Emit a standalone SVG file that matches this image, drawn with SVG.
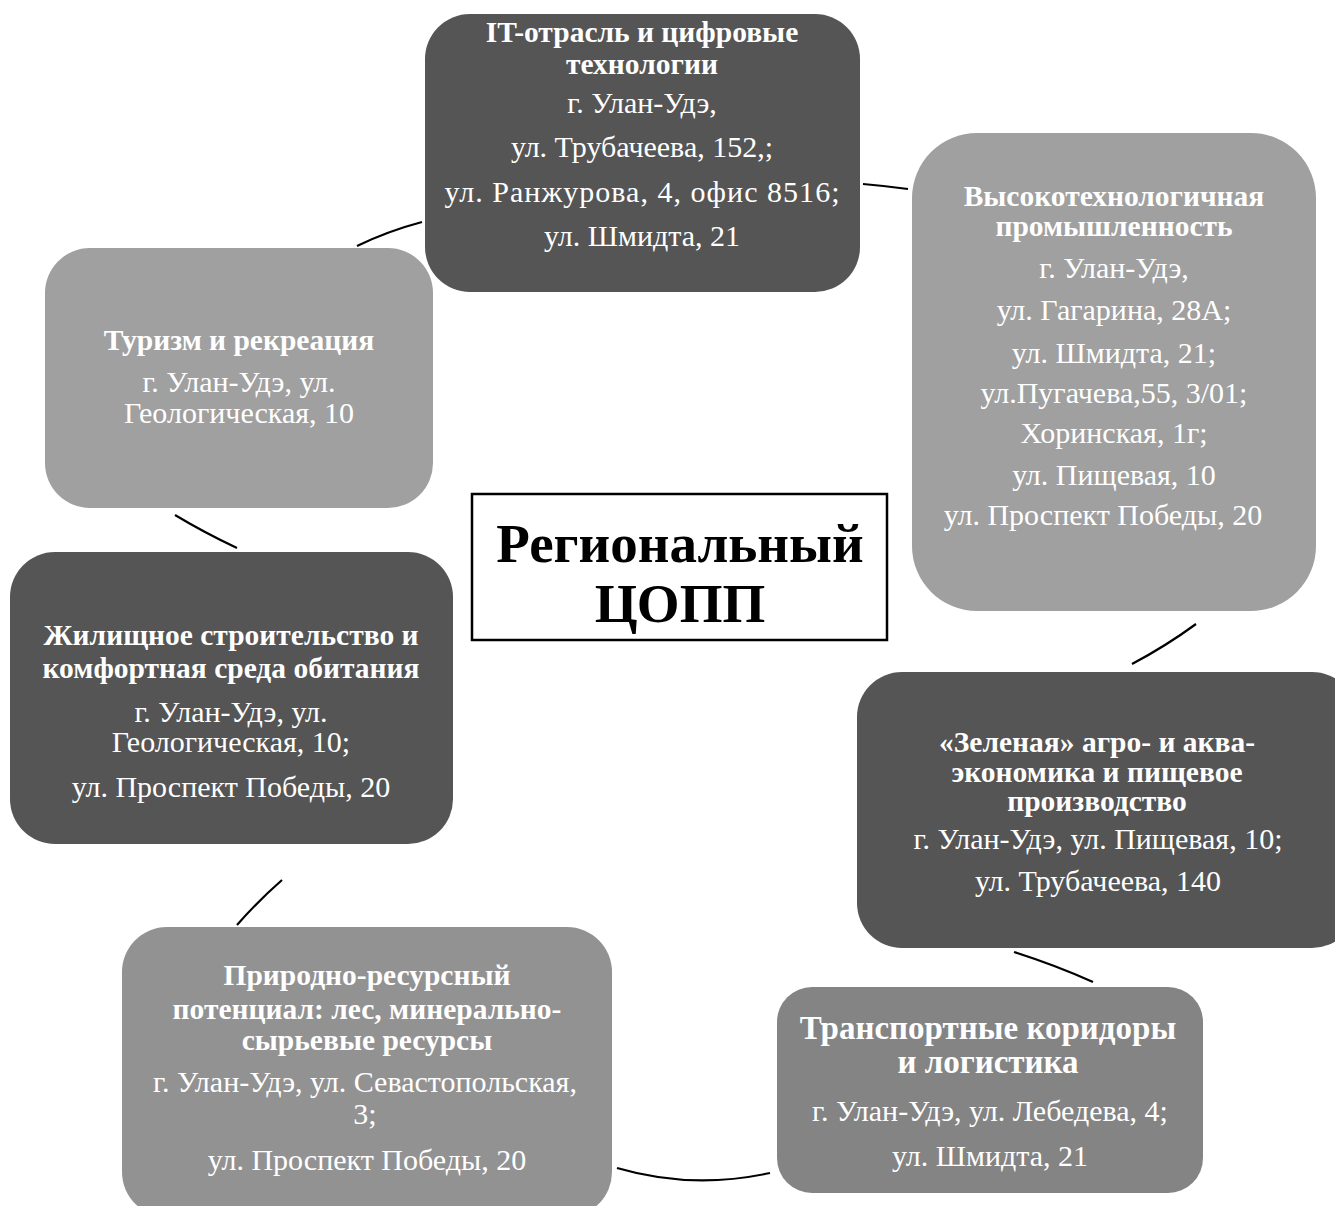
<svg xmlns="http://www.w3.org/2000/svg" width="1335" height="1206" viewBox="0 0 1335 1206">
<style>
.t{font-family:"Liberation Serif","Times New Roman",serif;fill:#fff;text-anchor:middle;font-weight:bold;font-size:29.5px}
.a{font-family:"Liberation Serif","Times New Roman",serif;fill:#fff;text-anchor:middle;font-size:30px}
.c{font-family:"Liberation Serif","Times New Roman",serif;fill:#000;text-anchor:middle;font-weight:bold;font-size:55px}
.dk{fill:#555555}
.lt{fill:#a0a0a0}
.md{fill:#848484}
.ml{fill:#929292}
.conn path{fill:none;stroke:#000;stroke-width:2.2}
</style>
<rect width="1335" height="1206" fill="#fff"/>
<g class="conn">
<path d="M357,246 Q388,231 422,222"/>
<path d="M863,184 Q886,186 908,189"/>
<path d="M1132,664 Q1166,646 1196,624"/>
<path d="M1014,952 Q1055,965 1093,982"/>
<path d="M617,1168 Q692,1190 770,1173"/>
<path d="M237,925 Q258,901 282,880"/>
<path d="M175,515 Q205,533 237,548"/>
</g>
<g id="center">
<rect x="472" y="494" width="415" height="146" fill="#fff" stroke="#000" stroke-width="2.5"/>
<text class="c" x="680" y="562">Региональный</text>
<text class="c" x="680" y="622">ЦОПП</text>
</g>
<g id="it">
<rect class="dk" x="425" y="14" width="435" height="278" rx="45"/>
<text class="t" x="642" y="42">IT-отрасль и цифровые</text>
<text class="t" x="642" y="74">технологии</text>
<text class="a" x="642" y="113">г. Улан-Удэ,</text>
<text class="a" x="642" y="157">ул. Трубачеева, 152,;</text>
<text class="a" x="642" y="202" textLength="395" lengthAdjust="spacing">ул. Ранжурова, 4, офис 8516;</text>
<text class="a" x="642" y="246">ул. Шмидта, 21</text>
</g>
<g id="hitech">
<rect class="lt" x="912" y="133" width="404" height="478" rx="65"/>
<text class="t" x="1114" y="206">Высокотехнологичная</text>
<text class="t" x="1114" y="236">промышленность</text>
<text class="a" x="1114" y="278">г. Улан-Удэ,</text>
<text class="a" x="1114" y="320">ул. Гагарина, 28А;</text>
<text class="a" x="1114" y="363">ул. Шмидта, 21;</text>
<text class="a" x="1114" y="403">ул.Пугачева,55, 3/01;</text>
<text class="a" x="1114" y="443">Хоринская, 1г;</text>
<text class="a" x="1114" y="485">ул. Пищевая, 10</text>
<text class="a" x="1103" y="525">ул. Проспект Победы, 20</text>
</g>
<g id="green">
<rect class="dk" x="857" y="672" width="500" height="276" rx="45"/>
<text class="t" x="1097" y="752">«Зеленая» агро- и аква-</text>
<text class="t" x="1097" y="782">экономика и пищевое</text>
<text class="t" x="1097" y="811">производство</text>
<text class="a" x="1098" y="849">г. Улан-Удэ, ул. Пищевая, 10;</text>
<text class="a" x="1098" y="891">ул. Трубачеева, 140</text>
</g>
<g id="transport">
<rect class="md" x="777" y="987" width="426" height="206" rx="35"/>
<text class="t" x="988" y="1039" style="font-size:33px">Транспортные коридоры</text>
<text class="t" x="988" y="1073" style="font-size:33px">и логистика</text>
<text class="a" x="990" y="1121">г. Улан-Удэ, ул. Лебедева, 4;</text>
<text class="a" x="990" y="1166">ул. Шмидта, 21</text>
</g>
<g id="nature">
<rect class="ml" x="122" y="927" width="490" height="290" rx="45"/>
<text class="t" x="367" y="985">Природно-ресурсный</text>
<text class="t" x="367" y="1019">потенциал: лес, минерально-</text>
<text class="t" x="367" y="1050">сырьевые ресурсы</text>
<text class="a" x="365" y="1092">г. Улан-Удэ, ул. Севастопольская,</text>
<text class="a" x="365" y="1124">3;</text>
<text class="a" x="367" y="1170">ул. Проспект Победы, 20</text>
</g>
<g id="housing">
<rect class="dk" x="10" y="552" width="443" height="292" rx="45"/>
<text class="t" x="231" y="645">Жилищное строительство и</text>
<text class="t" x="231" y="678">комфортная среда обитания</text>
<text class="a" x="231" y="722">г. Улан-Удэ, ул.</text>
<text class="a" x="231" y="752">Геологическая, 10;</text>
<text class="a" x="231" y="797">ул. Проспект Победы, 20</text>
</g>
<g id="tourism">
<rect class="lt" x="45" y="248" width="388" height="260" rx="45"/>
<text class="t" x="239" y="350">Туризм и рекреация</text>
<text class="a" x="239" y="392">г. Улан-Удэ, ул.</text>
<text class="a" x="239" y="423">Геологическая, 10</text>
</g>
</svg>
